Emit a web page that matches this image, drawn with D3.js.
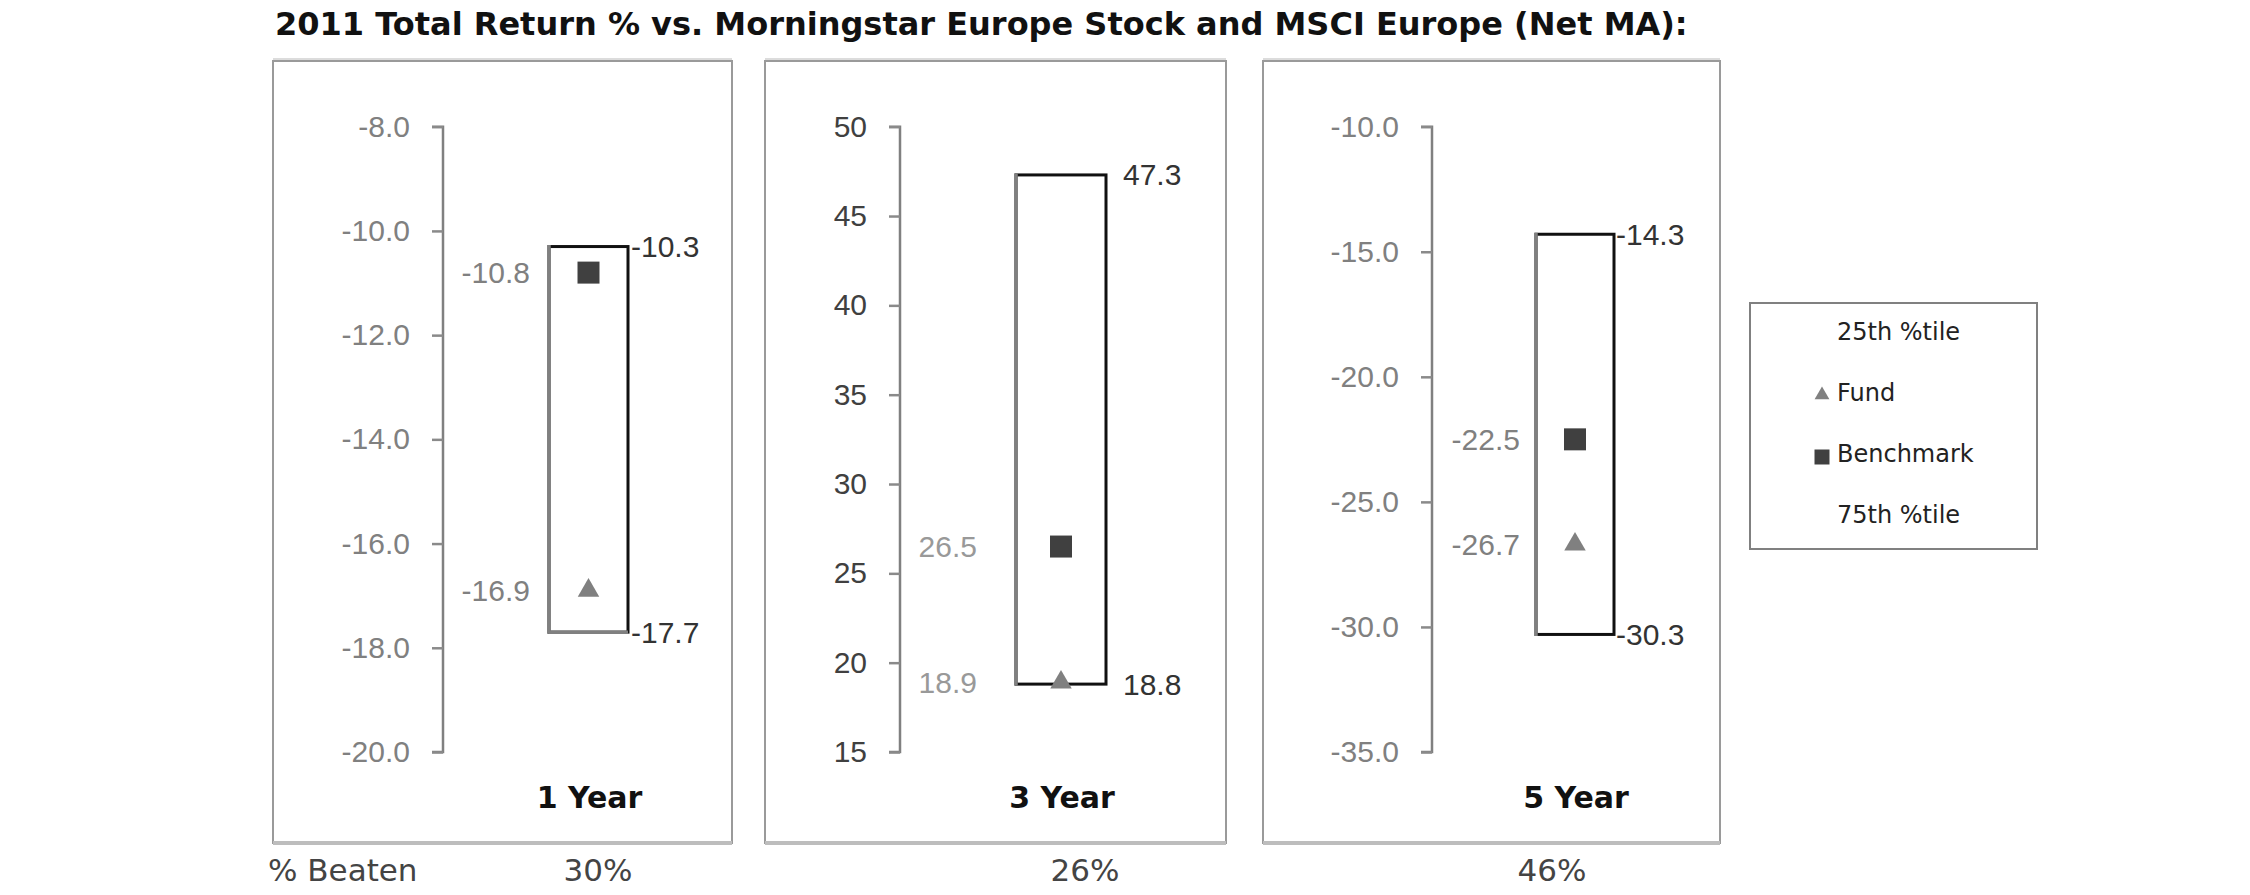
<!DOCTYPE html>
<html>
<head>
<meta charset="utf-8">
<script src="https://cdn.jsdelivr.net/npm/d3@7"></script>
<style>
  html, body { margin: 0; padding: 0; background: #ffffff; }
  svg { display: block; }
</style>
</head>
<body>
<svg id="chart" width="2250" height="895"></svg>
<script>
// ---------------- data ----------------
const periods = ["1 Year", "3 Year", "5 Year"];
const pct25 = [-10.3, 47.3, -14.3];
const pct75 = [-17.7, 18.8, -30.3];
const fundValues = [-16.9, 18.9, -26.7];
const benchmarkValues = [-10.8, 26.5, -22.5];
const pctBeaten = ["30%", "26%", "46%"];
const axisMin = [-20, 15, -35];
const axisMax = [-8, 50, -10];
const axisStep = [2, 5, 5];
const tickFormats = [".1f", "d", ".1f"];
const legendLabels = ["25th %tile", "Fund", "Benchmark", "75th %tile"];
const titleText = "2011 Total Return % vs. Morningstar Europe Stock and MSCI Europe (Net MA):";

// ---------------- layout ----------------
const layout = [
  { x0: 273, x1: 732, axisX: 443, boxCx: 588.5, boxW: 79, leftLabelX: 530, rightLabelX: 631, tickColor: "#808080", leftLabelColor: "#808080", beatenX: 598 },
  { x0: 765, x1: 1226, axisX: 900, boxCx: 1061, boxW: 90, leftLabelX: 977, rightLabelX: 1123, tickColor: "#404040", leftLabelColor: "#999999", beatenX: 1085 },
  { x0: 1263, x1: 1720, axisX: 1432, boxCx: 1575, boxW: 78, leftLabelX: 1520, rightLabelX: 1616, tickColor: "#808080", leftLabelColor: "#808080", beatenX: 1552 }
];
const panelTop = 61, panelBottom = 843;
const yTop = 126.7, yBottom = 752;

const hyphen = f => v => f(v).replace("\u2212", "-");

const svg = d3.select("#chart");

// title
svg.append("text")
  .attr("x", 275).attr("y", 35)
  .attr("font-family", "DejaVu Sans, Verdana, sans-serif")
  .attr("font-weight", "bold")
  .attr("font-size", 32)
  .attr("fill", "#111")
  .text(titleText);

periods.forEach((p, i) => {
  const L = layout[i];
  const g = svg.append("g");

  // panel frame
  g.append("line").attr("x1", L.x0).attr("x2", L.x1).attr("y1", panelTop - 2).attr("y2", panelTop - 2)
    .attr("stroke", "#dcdcdc").attr("stroke-width", 2);
  g.append("rect")
    .attr("x", L.x0).attr("y", panelTop)
    .attr("width", L.x1 - L.x0).attr("height", panelBottom - panelTop)
    .attr("fill", "#fff").attr("stroke", "#9a9a9a").attr("stroke-width", 2);
  g.append("line").attr("x1", L.x0).attr("x2", L.x1).attr("y1", panelBottom).attr("y2", panelBottom)
    .attr("stroke", "#bdbdbd").attr("stroke-width", 4);

  const y = d3.scaleLinear().domain([axisMin[i], axisMax[i]]).range([yBottom, yTop]);
  const ticks = d3.range(axisMin[i], axisMax[i] + axisStep[i] / 2, axisStep[i]);
  const axis = d3.axisLeft(y).tickValues(ticks).tickSize(11).tickPadding(22)
    .tickFormat(hyphen(d3.format(tickFormats[i])));
  const ag = g.append("g").attr("transform", `translate(${L.axisX},0)`).call(axis);
  ag.select(".domain").attr("stroke", "#808080").attr("stroke-width", 2.5)
    .attr("d", `M-11,${yTop}H0V${yBottom}H-11`);
  ag.selectAll(".tick line").attr("stroke", "#8a8a8a").attr("stroke-width", 2.5);
  ag.selectAll(".tick text")
    .attr("font-family", "Liberation Sans, Arial, sans-serif")
    .attr("font-size", 30)
    .attr("fill", L.tickColor);

  // percentile box
  const top = y(pct25[i]), bot = y(pct75[i]);
  const bx = L.boxCx - L.boxW / 2;
  g.append("rect")
    .attr("x", bx).attr("y", top)
    .attr("width", L.boxW).attr("height", bot - top)
    .attr("fill", "none").attr("stroke", "#111").attr("stroke-width", 3);
  g.append("line").attr("x1", bx).attr("x2", bx).attr("y1", top - 1.5).attr("y2", bot + 1.5)
    .attr("stroke", "#808080").attr("stroke-width", 3.5);
  if (i === 0) {
    g.append("line").attr("x1", bx).attr("x2", bx + L.boxW).attr("y1", bot).attr("y2", bot)
      .attr("stroke", "#808080").attr("stroke-width", 3.5);
  }

  // markers
  g.append("path")
    .attr("d", d3.symbol(d3.symbolSquare, 22 * 22)())
    .attr("transform", `translate(${L.boxCx},${y(benchmarkValues[i])})`)
    .attr("fill", "#404040");
  g.append("path")
    .attr("d", d3.symbol(d3.symbolTriangle, 200)())
    .attr("transform", `translate(${L.boxCx},${y(fundValues[i])})`)
    .attr("fill", "#808080");

  // value labels
  const valFmt = hyphen(d3.format(".1f"));
  [benchmarkValues[i], fundValues[i]].forEach(v => {
    g.append("text")
      .attr("x", L.leftLabelX).attr("y", y(v)).attr("dy", "0.35em")
      .attr("text-anchor", "end")
      .attr("font-family", "Liberation Sans, Arial, sans-serif")
      .attr("font-size", 30).attr("fill", L.leftLabelColor)
      .text(valFmt(v));
  });
  [pct25[i], pct75[i]].forEach(v => {
    g.append("text")
      .attr("x", L.rightLabelX).attr("y", y(v)).attr("dy", "0.35em")
      .attr("text-anchor", "start")
      .attr("font-family", "Liberation Sans, Arial, sans-serif")
      .attr("font-size", 30).attr("fill", "#333")
      .text(valFmt(v));
  });

  // period label
  g.append("text")
    .attr("x", L.boxCx + 1).attr("y", 808)
    .attr("text-anchor", "middle")
    .attr("font-family", "DejaVu Sans, Verdana, sans-serif")
    .attr("font-weight", "bold").attr("font-size", 30)
    .attr("fill", "#111")
    .text(p);

  // % beaten
  svg.append("text")
    .attr("x", L.beatenX).attr("y", 881)
    .attr("text-anchor", "middle")
    .attr("font-family", "DejaVu Sans, Verdana, sans-serif")
    .attr("font-size", 31).attr("fill", "#444")
    .text(pctBeaten[i]);
});

svg.append("text")
  .attr("x", 268).attr("y", 881)
  .attr("font-family", "DejaVu Sans, Verdana, sans-serif")
  .attr("font-size", 31).attr("fill", "#444")
  .text("% Beaten");

// legend
const lg = svg.append("g");
lg.append("rect").attr("x", 1750).attr("y", 303).attr("width", 287).attr("height", 246)
  .attr("fill", "#fff").attr("stroke", "#808080").attr("stroke-width", 2);
const legY = d3.scalePoint().domain(legendLabels).range([332, 515]);
legendLabels.forEach((lab, k) => {
  lg.append("text")
    .attr("x", 1837).attr("y", legY(lab)).attr("dy", "0.35em")
    .attr("font-family", "DejaVu Sans, Verdana, sans-serif")
    .attr("font-size", 24).attr("fill", "#222")
    .text(lab);
});
lg.append("path").attr("d", d3.symbol(d3.symbolTriangle, 95)())
  .attr("transform", `translate(1822,${legY("Fund") + 2})`).attr("fill", "#808080");
lg.append("path").attr("d", d3.symbol(d3.symbolSquare, 15 * 15)())
  .attr("transform", `translate(1822,${legY("Benchmark") + 3})`).attr("fill", "#404040");
</script>
</body>
</html>
